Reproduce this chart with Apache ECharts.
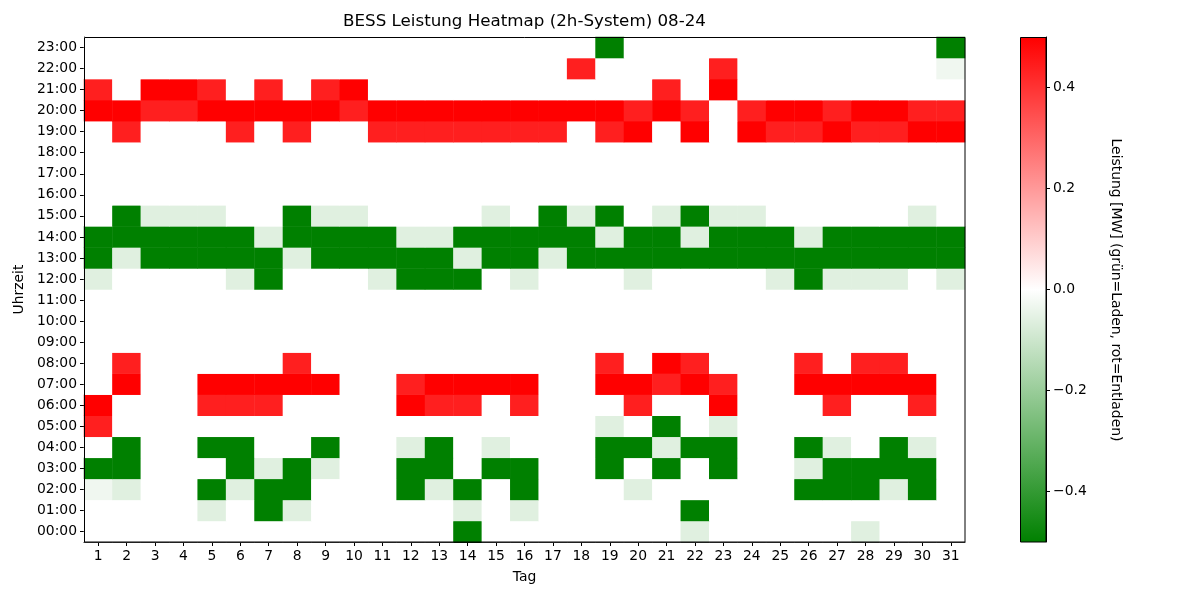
<!DOCTYPE html>
<html>
<head>
<meta charset="utf-8">
<script src="https://cdn.jsdelivr.net/npm/echarts@6/dist/echarts.min.js"></script>
<style>
html,body{margin:0;padding:0;background:#fff;}
#chart{width:1200px;height:600px;}
</style>
</head>
<body>
<div id="chart"></div>
<script>
const days = ['1','2','3','4','5','6','7','8','9','10','11','12','13','14','15','16','17','18','19','20','21','22','23','24','25','26','27','28','29','30','31'];
const hours = ['00:00','01:00','02:00','03:00','04:00','05:00','06:00','07:00','08:00','09:00','10:00','11:00','12:00','13:00','14:00','15:00','16:00','17:00','18:00','19:00','20:00','21:00','22:00','23:00'];
const colorbarTicks = [-0.4, -0.2, 0, 0.2, 0.4];

const h00 = [0,0,0,0,0,0,0,0,0,0, 0,0,0,-0.5,0,0,0,0,0,0, 0,-0.06,0,0,0,0,0,-0.06,0,0, 0];
const h01 = [0,0,0,0,-0.06,0,-0.5,-0.06,0,0, 0,0,0,-0.06,0,-0.06,0,0,0,0, 0,-0.5,0,0,0,0,0,0,0,0, 0];
const h02 = [-0.03,-0.06,0,0,-0.5,-0.06,-0.5,-0.5,0,0, 0,-0.5,-0.06,-0.5,0,-0.5,0,0,0,-0.06, 0,0,0,0,0,-0.5,-0.5,-0.5,-0.06,-0.5, 0];
const h03 = [-0.5,-0.5,0,0,0,-0.5,-0.06,-0.5,-0.06,0, 0,-0.5,-0.5,0,-0.5,-0.5,0,0,-0.5,0, -0.5,0,-0.5,0,0,-0.06,-0.5,-0.5,-0.5,-0.5, 0];
const h04 = [0,-0.5,0,0,-0.5,-0.5,0,0,-0.5,0, 0,-0.06,-0.5,0,-0.06,0,0,0,-0.5,-0.5, -0.06,-0.5,-0.5,0,0,-0.5,-0.06,0,-0.5,-0.06, 0];
const h05 = [0.44,0,0,0,0,0,0,0,0,0, 0,0,0,0,0,0,0,0,-0.06,0, -0.5,0,-0.06,0,0,0,0,0,0,0, 0];
const h06 = [0.5,0,0,0,0.44,0.44,0.44,0,0,0, 0,0.5,0.44,0.44,0,0.44,0,0,0,0.44, 0,0,0.5,0,0,0,0.44,0,0,0.44, 0];
const h07 = [0,0.5,0,0,0.5,0.5,0.5,0.5,0.5,0, 0,0.44,0.5,0.5,0.5,0.5,0,0,0.5,0.5, 0.44,0.5,0.44,0,0,0.5,0.5,0.5,0.5,0.5, 0];
const h08 = [0,0.44,0,0,0,0,0,0.44,0,0, 0,0,0,0,0,0,0,0,0.44,0, 0.5,0.44,0,0,0,0.44,0,0.44,0.44,0, 0];
const h09 = [0,0,0,0,0,0,0,0,0,0, 0,0,0,0,0,0,0,0,0,0, 0,0,0,0,0,0,0,0,0,0, 0];
const h10 = [0,0,0,0,0,0,0,0,0,0, 0,0,0,0,0,0,0,0,0,0, 0,0,0,0,0,0,0,0,0,0, 0];
const h11 = [0,0,0,0,0,0,0,0,0,0, 0,0,0,0,0,0,0,0,0,0, 0,0,0,0,0,0,0,0,0,0, 0];
const h12 = [-0.06,0,0,0,0,-0.06,-0.5,0,0,0, -0.06,-0.5,-0.5,-0.5,0,-0.06,0,0,0,-0.06, 0,0,0,0,-0.06,-0.5,-0.06,-0.06,-0.06,0, -0.06];
const h13 = [-0.5,-0.06,-0.5,-0.5,-0.5,-0.5,-0.5,-0.06,-0.5,-0.5, -0.5,-0.5,-0.5,-0.06,-0.5,-0.5,-0.06,-0.5,-0.5,-0.5, -0.5,-0.5,-0.5,-0.5,-0.5,-0.5,-0.5,-0.5,-0.5,-0.5, -0.5];
const h14 = [-0.5,-0.5,-0.5,-0.5,-0.5,-0.5,-0.06,-0.5,-0.5,-0.5, -0.5,-0.06,-0.06,-0.5,-0.5,-0.5,-0.5,-0.5,-0.06,-0.5, -0.5,-0.06,-0.5,-0.5,-0.5,-0.06,-0.5,-0.5,-0.5,-0.5, -0.5];
const h15 = [0,-0.5,-0.06,-0.06,-0.06,0,0,-0.5,-0.06,-0.06, 0,0,0,0,-0.06,0,-0.5,-0.06,-0.5,0, -0.06,-0.5,-0.06,-0.06,0,0,0,0,0,-0.06, 0];
const h16 = [0,0,0,0,0,0,0,0,0,0, 0,0,0,0,0,0,0,0,0,0, 0,0,0,0,0,0,0,0,0,0, 0];
const h17 = [0,0,0,0,0,0,0,0,0,0, 0,0,0,0,0,0,0,0,0,0, 0,0,0,0,0,0,0,0,0,0, 0];
const h18 = [0,0,0,0,0,0,0,0,0,0, 0,0,0,0,0,0,0,0,0,0, 0,0,0,0,0,0,0,0,0,0, 0];
const h19 = [0,0.44,0,0,0,0.44,0,0.44,0,0, 0.44,0.44,0.44,0.44,0.44,0.44,0.44,0,0.44,0.5, 0,0.5,0,0.5,0.44,0.44,0.5,0.44,0.44,0.5, 0.5];
const h20 = [0.5,0.5,0.44,0.44,0.5,0.5,0.5,0.5,0.5,0.44, 0.5,0.5,0.5,0.5,0.5,0.5,0.5,0.5,0.5,0.44, 0.5,0.44,0,0.44,0.5,0.5,0.44,0.5,0.5,0.44, 0.44];
const h21 = [0.44,0,0.5,0.5,0.44,0,0.44,0,0.44,0.5, 0,0,0,0,0,0,0,0,0,0, 0.44,0,0.5,0,0,0,0,0,0,0, 0];
const h22 = [0,0,0,0,0,0,0,0,0,0, 0,0,0,0,0,0,0,0.44,0,0, 0,0,0.44,0,0,0,0,0,0,0, -0.03];
const h23 = [0,0,0,0,0,0,0,0,0,0, 0,0,0,0,0,0,0,0,-0.5,0, 0,0,0,0,0,0,0,0,0,0, -0.5];

const hourRows = [h00,h01,h02,h03,h04,h05,h06,h07,h08,h09,h10,h11,h12,h13,h14,h15,h16,h17,h18,h19,h20,h21,h22,h23];
const cells = [];
hourRows.forEach((row, hi) => row.forEach((v, di) => cells.push([di, hi, v])));

const FONT = 'DejaVu Sans';
const chart = echarts.init(document.getElementById('chart'), null, {renderer: 'canvas'});
const fmt = v => (v < 0 ? '\u2212' + Math.abs(v).toFixed(1) : v.toFixed(1));

chart.setOption({
  animation: false,
  backgroundColor: '#ffffff',
  textStyle: {fontFamily: FONT},
  grid: [
    {left: 84, top: 37, width: 881, height: 505, show: false},
    {left: 1020, top: 37, width: 26, height: 505, show: false}
  ],
  xAxis: [
    {
      type: 'category', data: days, gridIndex: 0,
      name: 'Tag', nameLocation: 'middle', nameGap: 28,
      nameTextStyle: {fontFamily: FONT, fontSize: 13.9, color: '#000'},
      axisLine: {show: true, lineStyle: {color: '#000', width: 1}},
      axisTick: {show: true, alignWithLabel: true, length: 4, lineStyle: {color: '#000'}},
      axisLabel: {interval: 0, margin: 7, fontFamily: FONT, fontSize: 13.9, color: '#000'},
      splitLine: {show: false}, splitArea: {show: false}
    },
    {type: 'value', gridIndex: 1, show: false, min: 0, max: 1}
  ],
  yAxis: [
    {
      type: 'category', data: hours, gridIndex: 0,
      name: 'Uhrzeit', nameLocation: 'middle', nameGap: 56, nameRotate: 90,
      nameTextStyle: {fontFamily: FONT, fontSize: 13.9, color: '#000'},
      axisLine: {show: true, lineStyle: {color: '#000', width: 1}},
      axisTick: {show: true, alignWithLabel: true, length: 4, lineStyle: {color: '#000'}},
      axisLabel: {interval: 0, margin: 7, fontFamily: FONT, fontSize: 13.9, color: '#000'},
      splitLine: {show: false}, splitArea: {show: false}
    },
    {
      type: 'value', gridIndex: 1, position: 'right', min: -0.5, max: 0.5,
      axisLine: {show: true, onZero: false, lineStyle: {color: '#000', width: 1}},
      axisTick: {show: true, length: 4, customValues: colorbarTicks, lineStyle: {color: '#000'}},
      axisLabel: {show: true, margin: 7, customValues: colorbarTicks, formatter: fmt, fontFamily: FONT, fontSize: 13.9, color: '#000'},
      splitLine: {show: false}
    }
  ],
  visualMap: {
    type: 'continuous', show: false, min: -0.5, max: 0.5, dimension: 2, seriesIndex: 0,
    inRange: {color: ['#008000', '#ffffff', '#ff0000']}
  },
  graphic: [
    {
      type: 'rect', x: 0, y: 0, z: 100, silent: true,
      shape: {x: 84.5, y: 37.5, width: 880.5, height: 504.5},
      style: {fill: null, stroke: '#000', lineWidth: 1}
    },
    {
      type: 'rect', x: 0, y: 0, z: 10, silent: true,
      shape: {x: 1020.5, y: 37.5, width: 25.5, height: 504.5},
      style: {
        fill: new echarts.graphic.LinearGradient(0, 0, 0, 1, [
          {offset: 0, color: '#ff0000'},
          {offset: 0.5, color: '#ffffff'},
          {offset: 1, color: '#008000'}
        ]),
        stroke: '#000', lineWidth: 1
      }
    },
    {
      type: 'text', x: 524.5, y: 22, z: 10,
      style: {text: 'BESS Leistung Heatmap (2h-System) 08-24', fontFamily: FONT, fontSize: 16.7, fill: '#000', align: 'center', verticalAlign: 'middle'}
    },
    {
      type: 'text', x: 1116, y: 290, rotation: -Math.PI / 2, z: 10,
      style: {text: 'Leistung [MW] (grün=Laden, rot=Entladen)', fontFamily: FONT, fontSize: 13.9, fill: '#000', align: 'center', verticalAlign: 'middle'}
    }
  ],
  series: [{
    type: 'heatmap', xAxisIndex: 0, yAxisIndex: 0, data: cells,
    progressive: 0,
    itemStyle: {borderWidth: 0},
    emphasis: {disabled: true}
  }]
});
</script>
</body>
</html>
